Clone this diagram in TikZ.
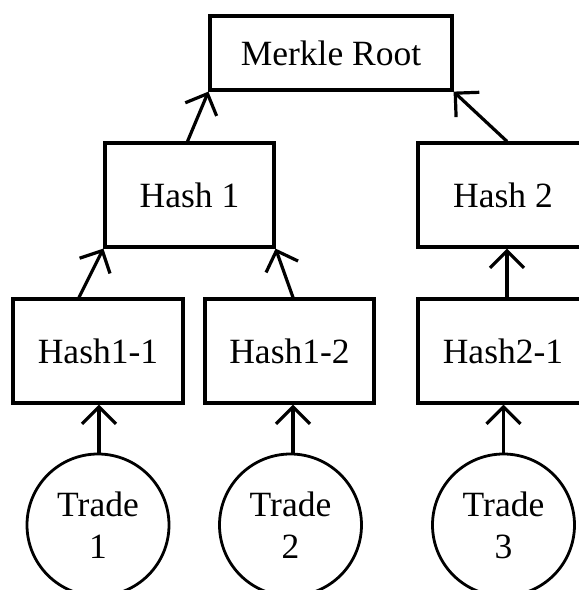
\documentclass[tikz,border=0pt]{standalone}
\usepackage{fontspec}
\setmainfont{Liberation Serif}
\usetikzlibrary{arrows.meta}
\begin{document}
\begin{tikzpicture}[x=1pt,y=-1pt,
  every node/.style={font=\fontsize{35.5}{42}\selectfont, inner sep=0pt},
  hashbox/.style={draw, line width=3.2pt, minimum width=170pt, minimum height=104pt},
  trade/.style={draw, circle, line width=2.8pt, minimum size=142pt, align=center},
  link/.style={line width=3.2pt, -{Straight Barb[length=17pt,width=34pt,line cap=butt,line join=miter]}}]
  \useasboundingbox (0,0) rectangle (579,590);
  \clip (0,0) rectangle (579,590);
  % hash tree
  \node[hashbox, minimum width=242pt, minimum height=74pt] (root) at (331,53) {Merkle Root};
  \node[hashbox, minimum width=169pt] (h1) at (189.5,195) {Hash 1};
  \node[hashbox] (h2) at (503,195) {Hash 2};
  \node[hashbox] (h11) at (98,351) {Hash1-1};
  \node[hashbox, minimum width=169pt] (h12) at (289.5,351) {Hash1-2};
  \node[hashbox] (h21) at (503,351) {Hash2-1};
  % transactions
  \node[trade] (t1) at (98,525) {Trade\\1};
  \node[trade] (t2) at (290.5,525) {Trade\\2};
  \node[trade] (t3) at (503.5,525) {Trade\\3};
  % links towards the root
  \draw[link] ([xshift=-2pt]h1.north) -- (root.south west);
  \draw[link] ([xshift=4pt]h2.north) -- (root.south east);
  \draw[link] ([xshift=-19pt]h11.north) -- (h1.south west);
  \draw[link] ([xshift=3.5pt]h12.north) -- (h1.south east);
  \draw[link] ([xshift=4pt]h21.north) -- ([xshift=4pt]h2.south);
  \draw[link] ([xshift=1pt]t1.north) -- ([xshift=1pt]h11.south);
  \draw[link] ([xshift=2.5pt]t2.north) -- ([xshift=3.5pt]h12.south);
  \draw[link] (t3.north) -- (h21.south -| t3.north);
\end{tikzpicture}
\end{document}
